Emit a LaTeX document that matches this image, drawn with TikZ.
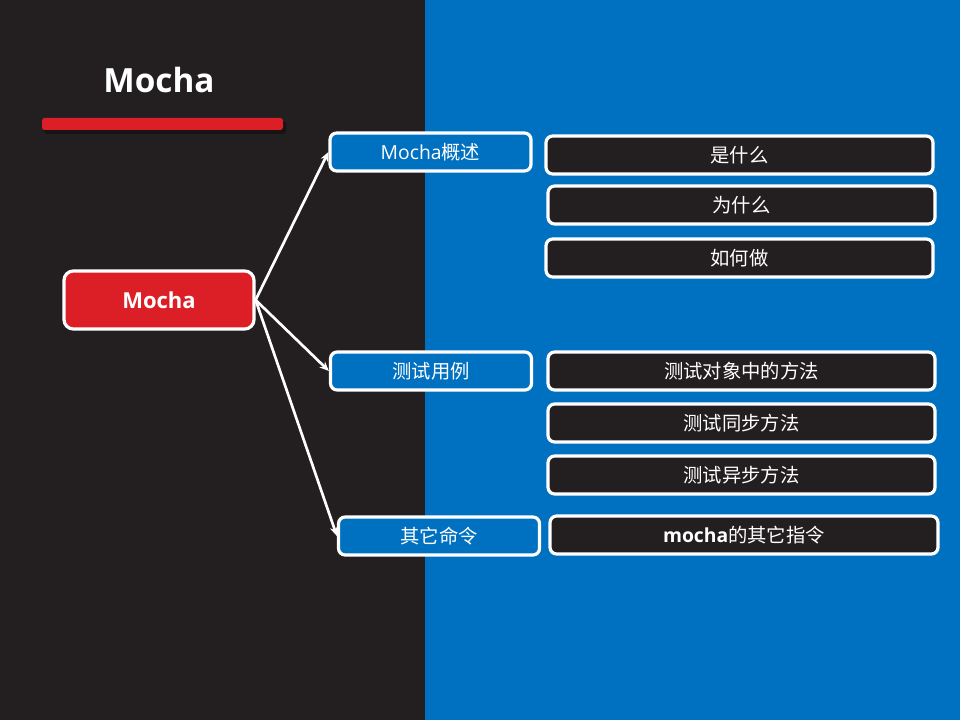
\documentclass[tikz,border=0pt]{standalone}
\usepackage{fontspec}
\usetikzlibrary{arrows.meta}
\setmainfont{Open Sans}
\newfontfamily\cjk{Noto Sans CJK SC}
\definecolor{darkbg}{HTML}{231F20}
\definecolor{bluebg}{HTML}{0070C0}
\definecolor{redc}{HTML}{DC1F26}
\begin{document}
\begin{tikzpicture}[x=0.75pt,y=-0.75pt,
  bx/.style={draw=white,line width=2.4pt,rounded corners=5pt,text=white,inner sep=0pt,font=\fontsize{14.5}{17}\selectfont},
  lvtwo/.style={bx,fill=bluebg,minimum width=201*0.75pt,minimum height=38*0.75pt},
  lvthree/.style={bx,fill=darkbg,minimum width=387*0.75pt,minimum height=38*0.75pt},
  conn/.style={draw=white,line width=2pt,-{Stealth[length=7pt,width=6pt]}}]
\useasboundingbox (0,0) rectangle (960,720);
\fill[darkbg] (0,0) rectangle (425,720);
\fill[bluebg] (425,0) rectangle (960,720);
% title
\node[text=white,font=\fontsize{25}{30}\selectfont\bfseries] (title) at (159,80) {Mocha};
\fill[black,opacity=0.35,rounded corners=2pt] (44,121) rectangle (286,134);
\fill[redc,rounded corners=2pt] (42,118) rectangle (283,130);
% root
\node[bx,fill=redc,minimum width=190*0.75pt,minimum height=58*0.75pt,rounded corners=7pt,font=\fontsize{16.5}{20}\selectfont\bfseries] (root) at (159,300) {Mocha};
% level two
\node[lvtwo] (a1) at (430.5,152) {Mocha{\cjk 概述}};
\node[lvtwo] (a2) at (431,371) {\cjk 测试用例};
\node[lvtwo] (a3) at (439,536) {\cjk 其它命令};
% level three
\node[lvthree] (b1) at (739.5,155) {\cjk 是什么};
\node[lvthree] (b2) at (741.5,205) {\cjk 为什么};
\node[lvthree] (b3) at (739.5,258) {\cjk 如何做};
\node[lvthree] (c1) at (741.5,371) {\cjk 测试对象中的方法};
\node[lvthree] (c2) at (741.5,423) {\cjk 测试同步方法};
\node[lvthree] (c3) at (741.5,475) {\cjk 测试异步方法};
\node[lvthree,minimum width=388*0.75pt] (d1) at (744,535) {{\bfseries mocha}{\cjk 的其它指令}};
% connectors
\draw[conn] (root.east) -- (a1.west);
\draw[conn] (root.east) -- (a2.west);
\draw[conn] (root.east) -- (a3.west);
\end{tikzpicture}
\end{document}
